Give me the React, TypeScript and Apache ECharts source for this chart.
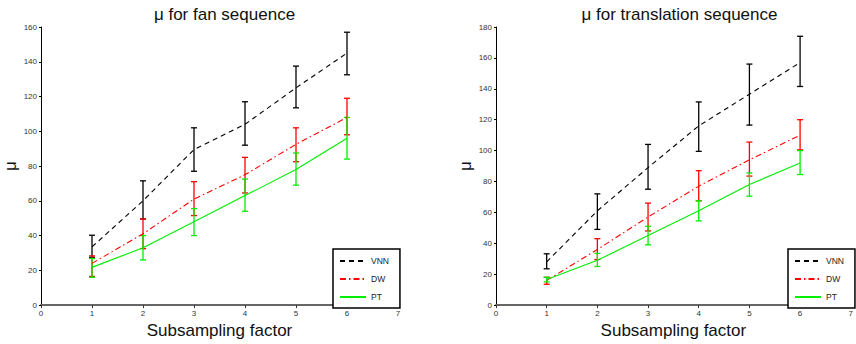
import React, { useEffect, useRef } from "react";
import * as echarts from "echarts";

const XS = [1, 2, 3, 4, 5, 6];
const METHODS = ["VNN", "DW", "PT"];

// Fan sequence
const FAN_VNN_MEAN = [33.5, 60, 89.5, 104, 125, 145];
const FAN_VNN_LOW = [27.5, 49.5, 77, 92, 113.5, 132.5];
const FAN_VNN_HIGH = [40.2, 71.5, 102, 117, 137.5, 157];
const FAN_DW_MEAN = [24, 41, 61, 75, 92.5, 108];
const FAN_DW_LOW = [16.5, 32.5, 51.5, 64.5, 82.5, 98];
const FAN_DW_HIGH = [28.3, 49.5, 71, 85, 102, 119];
const FAN_PT_MEAN = [21.7, 33, 48, 63, 78, 96];
const FAN_PT_LOW = [16, 26, 40, 54, 69, 84];
const FAN_PT_HIGH = [26.8, 40, 55.5, 72.5, 87.5, 108];

// Translation sequence
const TR_VNN_MEAN = [28, 61, 89, 116, 136.5, 157];
const TR_VNN_LOW = [23.5, 49, 75, 99.5, 116.5, 141.5];
const TR_VNN_HIGH = [33.2, 72, 104, 131.5, 156, 174];
const TR_DW_MEAN = [16, 36, 57, 77, 94, 110];
const TR_DW_LOW = [13.5, 29.5, 48, 67.5, 83.5, 100.5];
const TR_DW_HIGH = [18, 43, 66, 87, 105.5, 120];
const TR_PT_MEAN = [16.5, 29, 45, 61, 78, 92];
const TR_PT_LOW = [15, 25, 39, 54.5, 70.5, 84.5];
const TR_PT_HIGH = [18, 33.5, 51, 67.5, 85.5, 100];

const X_TICKS = [0, 1, 2, 3, 4, 5, 6, 7];
const FAN_Y_MAX = 160;
const TR_Y_MAX = 180;

const COLORS: Record<string, string> = { VNN: "#000000", DW: "#ff0000", PT: "#00ee00" };
const DASHES: Record<string, any> = { VNN: [5, 4], DW: [6, 3, 1.5, 3], PT: "solid" };

const FONT = "'Liberation Sans', Arial, sans-serif";

function errRender(color: string) {
  return (params: any, api: any) => {
    const x = api.value(0);
    const lo = api.coord([x, api.value(1)]);
    const hi = api.coord([x, api.value(2)]);
    const w = 3;
    const st = { stroke: color, lineWidth: 1.3 };
    return {
      type: "group",
      children: [
        { type: "line", shape: { x1: lo[0], y1: lo[1], x2: hi[0], y2: hi[1] }, style: st },
        { type: "line", shape: { x1: lo[0] - w, y1: lo[1], x2: lo[0] + w, y2: lo[1] }, style: st },
        { type: "line", shape: { x1: hi[0] - w, y1: hi[1], x2: hi[0] + w, y2: hi[1] }, style: st },
      ],
    };
  };
}

export default function App() {
  const ref = useRef<HTMLDivElement>(null);
  useEffect(() => {
    if (!ref.current) return;
    const chart = echarts.init(ref.current, null, { renderer: "svg" });

    const panels = [
      {
        mean: { VNN: FAN_VNN_MEAN, DW: FAN_DW_MEAN, PT: FAN_PT_MEAN } as Record<string, number[]>,
        low: { VNN: FAN_VNN_LOW, DW: FAN_DW_LOW, PT: FAN_PT_LOW } as Record<string, number[]>,
        high: { VNN: FAN_VNN_HIGH, DW: FAN_DW_HIGH, PT: FAN_PT_HIGH } as Record<string, number[]>,
      },
      {
        mean: { VNN: TR_VNN_MEAN, DW: TR_DW_MEAN, PT: TR_PT_MEAN } as Record<string, number[]>,
        low: { VNN: TR_VNN_LOW, DW: TR_DW_LOW, PT: TR_PT_LOW } as Record<string, number[]>,
        high: { VNN: TR_VNN_HIGH, DW: TR_DW_HIGH, PT: TR_PT_HIGH } as Record<string, number[]>,
      },
    ];

    const series: any[] = [];
    panels.forEach((p, gi) => {
      METHODS.forEach((m) => {
        series.push({
          type: "line",
          name: m,
          xAxisIndex: gi,
          yAxisIndex: gi,
          data: XS.map((x, i) => [x, p.mean[m][i]]),
          symbol: "none",
          lineStyle: { color: COLORS[m], width: 1.1, type: DASHES[m] },
          itemStyle: { color: COLORS[m] },
          z: 2,
        });
        series.push({
          type: "custom",
          name: m + " err",
          xAxisIndex: gi,
          yAxisIndex: gi,
          encode: { x: 0, y: [1, 2] },
          data: XS.map((x, i) => [x, p.low[m][i], p.high[m][i]]),
          renderItem: errRender(COLORS[m]),
          z: 2,
        });
      });
    });

    const xAxisBase = {
      type: "value",
      min: 0,
      max: 7,
      interval: 1,
      name: "Subsampling factor",
      nameLocation: "middle",
      nameGap: 12,
      nameTextStyle: { fontFamily: FONT, fontSize: 17, color: "#111" },
      axisLine: { lineStyle: { color: "#666", width: 2 } },
      axisTick: { length: 3, lineStyle: { color: "#333" } },
      axisLabel: { fontFamily: FONT, fontSize: 8, color: "#333", margin: 4,
        formatter: (v: number) => (X_TICKS.includes(v) ? String(v) : "") },
      splitLine: { show: false },
    };
    const yAxisBase = {
      type: "value",
      min: 0,
      interval: 20,
      name: "μ",
      nameLocation: "middle",
      nameGap: 22,
      nameTextStyle: { fontFamily: FONT, fontSize: 17, color: "#111" },
      axisLine: { show: true, lineStyle: { color: "#000", width: 1 } },
      axisTick: { show: true, length: 2, lineStyle: { color: "#000" } },
      axisLabel: { fontFamily: FONT, fontSize: 8, color: "#333", margin: 4 },
      splitLine: { show: false },
    };

    const legendBase = {
      orient: "vertical",
      top: 249,
      data: METHODS,
      itemWidth: 26,
      itemHeight: 10,
      itemGap: 8,
      padding: [7, 11, 6, 6],
      borderColor: "#000",
      borderWidth: 1.5,
      borderRadius: 0,
      backgroundColor: "#fff",
      itemStyle: { opacity: 0 },
      textStyle: { fontFamily: FONT, fontSize: 8.5, color: "#222", lineHeight: 10 },
      selectedMode: false,
      z: 5,
    };

    chart.setOption({
      animation: false,
      backgroundColor: "#fff",
      title: [
        { text: "μ for fan sequence", left: 219.5, textAlign: "center", top: 1,
          textStyle: { fontFamily: FONT, fontSize: 17, fontWeight: "normal", color: "#111" } },
        { text: "μ for translation sequence", left: 674.5, textAlign: "center", top: 1,
          textStyle: { fontFamily: FONT, fontSize: 17, fontWeight: "normal", color: "#111" } },
      ],
      grid: [
        { left: 41, top: 27, width: 357, height: 281 },
        { left: 496, top: 27, width: 357, height: 281 },
      ],
      xAxis: [
        { ...xAxisBase, gridIndex: 0 },
        { ...xAxisBase, gridIndex: 1 },
      ],
      yAxis: [
        { ...yAxisBase, gridIndex: 0, max: FAN_Y_MAX },
        { ...yAxisBase, gridIndex: 1, max: TR_Y_MAX },
      ],
      legend: [
        { ...legendBase, left: 333 },
        { ...legendBase, left: 788 },
      ],
      series,
    });
    return () => chart.dispose();
  }, []);
  return <div ref={ref} style={{ width: 856, height: 344, position: "absolute", left: 0, top: 0 }} />;
}
